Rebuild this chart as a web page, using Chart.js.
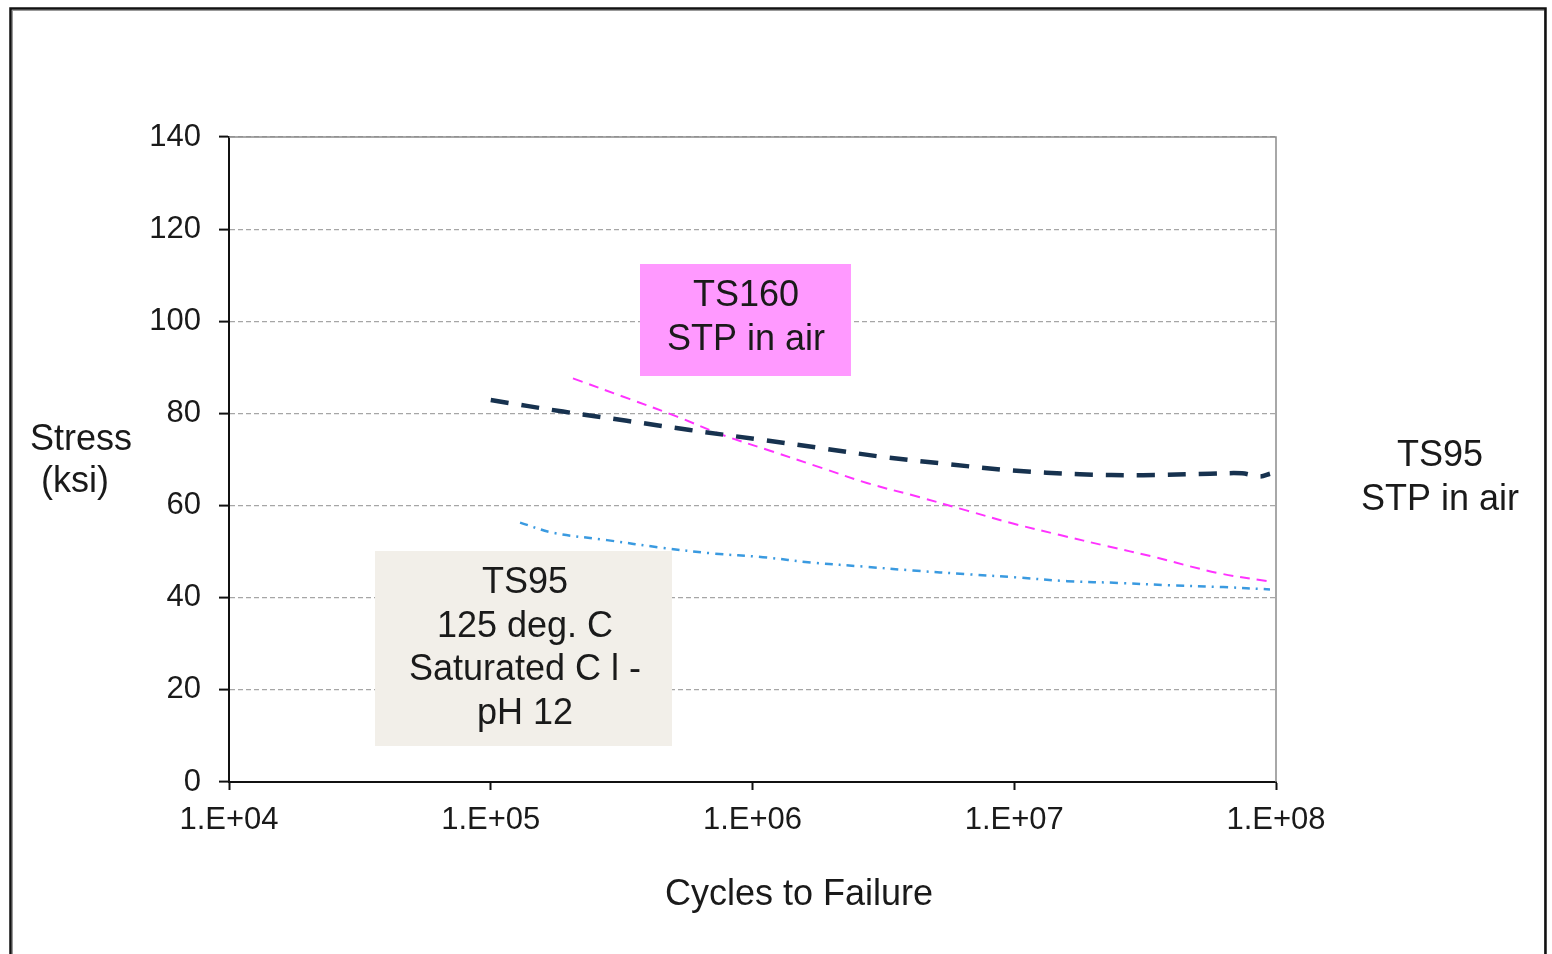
<!DOCTYPE html>
<html>
<head>
<meta charset="utf-8">
<script src="https://cdn.jsdelivr.net/npm/chart.js@4.4.0/dist/chart.umd.min.js"></script>
<style>
  body { margin: 0; background: #fff; }
  #stressChart { display: block; }
</style>
</head>
<body>
<canvas id="stressChart" width="1552" height="954"></canvas>
<script>
// x values are log10(cycles to failure), y values are stress in ksi
const ts95AirLogN = [5.0, 5.276, 5.52, 5.761, 6.017, 6.258, 6.506, 6.747, 6.995, 7.251, 7.492, 7.748, 7.87, 7.939, 7.977];
const ts95AirStress = [82.9, 80.4, 78.4, 76.4, 74.4, 72.5, 70.5, 69.0, 67.6, 66.8, 66.6, 66.9, 67.0, 66.3, 66.9];

const ts160AirLogN = [5.314, 5.532, 5.712, 5.887, 6.067, 6.258, 6.437, 6.64, 6.82, 6.995, 7.175, 7.354, 7.53, 7.775, 7.977];
const ts160AirStress = [87.6, 83.1, 79.3, 75.3, 71.9, 68.3, 64.9, 61.8, 58.9, 56.1, 53.6, 51.2, 48.9, 45.4, 43.5];

const ts95HotLogN = [5.112, 5.238, 5.444, 5.647, 5.849, 6.04, 6.231, 6.437, 6.613, 6.82, 7.011, 7.202, 7.404, 7.595, 7.798, 7.977];
const ts95HotStress = [56.3, 54.1, 52.5, 50.9, 49.6, 48.8, 47.6, 46.7, 45.9, 45.1, 44.4, 43.6, 43.2, 42.7, 42.3, 41.8];

const xTickExponents = [4, 5, 6, 7, 8];
const yTicks = [0, 20, 40, 60, 80, 100, 120, 140];

const FONT = "'Liberation Sans', Arial, sans-serif";

function toPoints(xs, ys) {
    return xs.map((x, i) => ({ x: x, y: ys[i] }));
}

// text boxes, axis titles and the outer frame
const decorations = {
    id: 'decorations',
    beforeDraw(chart) {
        const ctx = chart.ctx;
        ctx.save();
        ctx.strokeStyle = '#999';
        ctx.lineWidth = 1;
        ctx.strokeRect(12.5, 10.5, 1532, 1000);
        ctx.strokeStyle = '#111';
        ctx.lineWidth = 2.5;
        ctx.strokeRect(10.5, 8.5, 1535, 1000);
        ctx.restore();
    },
    afterDatasetsDraw(chart) {
        const ctx = chart.ctx;
        const area = chart.chartArea;
        ctx.save();
        // frame of the plot area (top and right)
        ctx.strokeStyle = '#8c8c8c';
        ctx.lineWidth = 1.5;
        ctx.beginPath();
        ctx.moveTo(area.left, area.top);
        ctx.lineTo(area.right, area.top);
        ctx.lineTo(area.right, area.bottom);
        ctx.stroke();

        // label boxes
        ctx.fillStyle = '#ff99ff';
        ctx.fillRect(640, 264, 211, 112);
        ctx.fillStyle = '#f2efe9';
        ctx.fillRect(375, 551, 297, 195);

        ctx.fillStyle = '#1a1a1a';
        ctx.font = '36px ' + FONT;
        ctx.textAlign = 'center';
        ctx.textBaseline = 'middle';
        ctx.fillText('TS160', 746, 296);
        ctx.fillText('STP in air', 746, 340);

        ctx.fillText('TS95', 525, 583);
        ctx.fillText('125 deg. C', 525, 627);
        ctx.fillText('Saturated C l -', 525, 670);
        ctx.fillText('pH 12', 525, 714);

        ctx.fillText('TS95', 1440, 456);
        ctx.fillText('STP in air', 1440, 500);

        ctx.fillText('Stress', 81, 440);
        ctx.fillText('(ksi)', 75, 482);

        ctx.fillText('Cycles to Failure', 799, 895);
        ctx.restore();
    }
};

const config = {
    type: 'line',
    data: {
        datasets: [
            {
                label: 'TS95 STP in air',
                data: toPoints(ts95AirLogN, ts95AirStress),
                borderColor: '#17324f',
                borderWidth: 4.5,
                borderDash: [18, 13],
                pointRadius: 0,
                tension: 0.35,
            },
            {
                label: 'TS160 STP in air',
                data: toPoints(ts160AirLogN, ts160AirStress),
                borderColor: '#ff33ff',
                borderWidth: 2,
                borderDash: [10, 7],
                pointRadius: 0,
                tension: 0.35,
            },
            {
                label: 'TS95 125 deg. C',
                data: toPoints(ts95HotLogN, ts95HotStress),
                borderColor: '#3a9ae0',
                borderWidth: 2.5,
                borderDash: [8, 6, 2, 6],
                pointRadius: 0,
                tension: 0.35,
            },
        ],
    },
    options: {
        responsive: false,
        animation: false,
        layout: {
            padding: { left: 0, right: 276, top: 137, bottom: 0 },
        },
        plugins: {
            legend: { display: false },
            tooltip: { enabled: false },
        },
        scales: {
            x: {
                type: 'linear',
                min: 4,
                max: 8,
                afterBuildTicks: (scale) => {
                    scale.ticks = xTickExponents.map(v => ({ value: v }));
                },
                afterFit: (scale) => {
                    scale.height = 172;
                },
                ticks: {
                    color: '#1a1a1a',
                    font: { family: FONT, size: 31 },
                    padding: 12,
                    maxRotation: 0,
                    callback: (v) => '1.E+0' + v,
                },
                grid: {
                    drawOnChartArea: false,
                    color: '#111',
                    tickLength: 8,
                    tickWidth: 2,
                },
                border: { color: '#111', width: 2 },
            },
            y: {
                min: 0,
                max: 140,
                afterBuildTicks: (scale) => {
                    scale.ticks = yTicks.map(v => ({ value: v }));
                },
                afterFit: (scale) => {
                    scale.width = 229;
                },
                ticks: {
                    color: '#1a1a1a',
                    font: { family: FONT, size: 31 },
                    padding: 18,
                },
                grid: {
                    color: '#a6a6a6',
                    lineWidth: 1.2,
                    tickBorderDash: [],
                    tickColor: '#111',
                    tickLength: 10,
                    tickWidth: 2,
                },
                border: { color: '#111', width: 2, dash: [5, 3] },
            },
        },
    },
    plugins: [decorations],
};

new Chart(document.getElementById('stressChart'), config);
</script>
</body>
</html>
